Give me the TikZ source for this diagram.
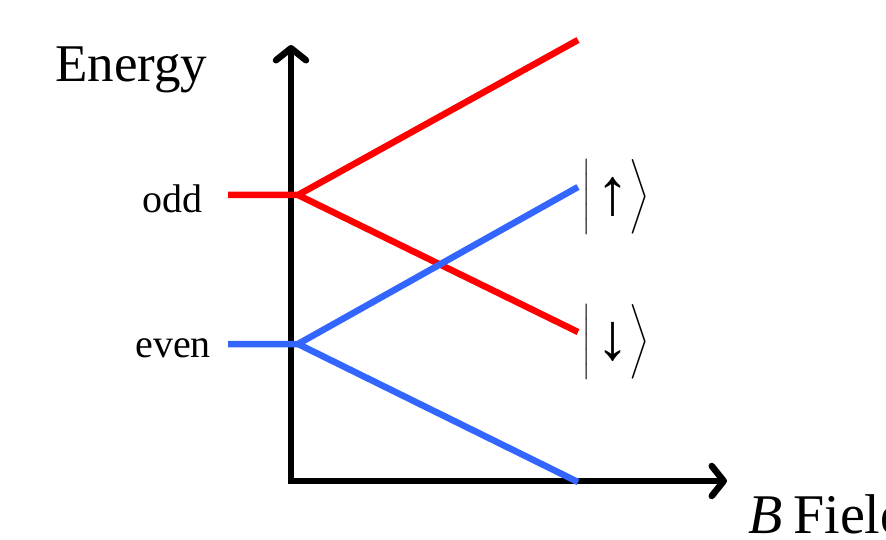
\RequirePackage{fix-cm}
\documentclass[tikz,border=0pt]{standalone}
\usepackage{amsmath}
\usepackage{fontspec}
\setmainfont{Liberation Serif}
\usetikzlibrary{arrows.meta}
\definecolor{lvlred}{RGB}{255,0,0}
\definecolor{lvlblue}{RGB}{51,102,255}
\tikzset{
  axis/.style={line width=6.5pt, {Straight Barb[length=12pt,width=30pt,round]}-{Straight Barb[length=12pt,width=30pt,round]}, line join=miter},
  lvl/.style={line width=6.5pt},
  lbl/.style={inner sep=0pt, font=\fontsize{40}{48}\selectfont},
  ket/.style={inner sep=0pt, font=\fontsize{40}{48}\selectfont},
}
\newcommand{\bigarrow}[1]{\mbox{\fontsize{66}{72}\selectfont #1}}
\begin{document}
\begin{tikzpicture}[x=1pt,y=-1pt]
\useasboundingbox (0,0) rectangle (886,540);
\coordinate (ytop) at (291,45);
\coordinate (orig) at (291,481);
\coordinate (xend) at (727,481);
\draw[axis] (ytop) -- (orig) -- (xend);
% levels
\coordinate (oddL) at (228,195);
\coordinate (oddS) at (298,195);
\coordinate (oddU) at (578,40);
\coordinate (oddD) at (578,332);
\coordinate (evL) at (228,344);
\coordinate (evS) at (298,344);
\coordinate (evU) at (578,187);
\coordinate (evD) at (578,482);
\draw[lvl, lvlred] (oddL) -- (oddS) -- (oddU);
\draw[lvl, lvlred] (oddS) -- (oddD);
\draw[lvl, lvlblue] (evL) -- (evS) -- (evU);
\draw[lvl, lvlblue] (evS) -- (evD);
% labels
\node[inner sep=0pt, font=\fontsize{53}{60}\selectfont, anchor=base west] (energy) at (55,82) {Energy};
\node[lbl, anchor=base east] (odd) at (203,212) {odd};
\node[lbl, anchor=base east] (even) at (211,357) {even};
\node[inner sep=0pt, font=\fontsize{56}{64}\selectfont, anchor=base west] (bfield) at (748,533) {\textit{B}\hspace{-3pt} Field};
\node[ket] (kup) at (616,197) {$\left|\vcenter to 66pt{}\hspace{5pt}\vcenter{\hbox{\bigarrow{↑}}}\hspace{0pt}\right\rangle$};
\node[ket] (kdn) at (616,342) {$\left|\vcenter to 66pt{}\hspace{5pt}\vcenter{\hbox{\bigarrow{↓}}}\hspace{0pt}\right\rangle$};
\end{tikzpicture}
\end{document}
